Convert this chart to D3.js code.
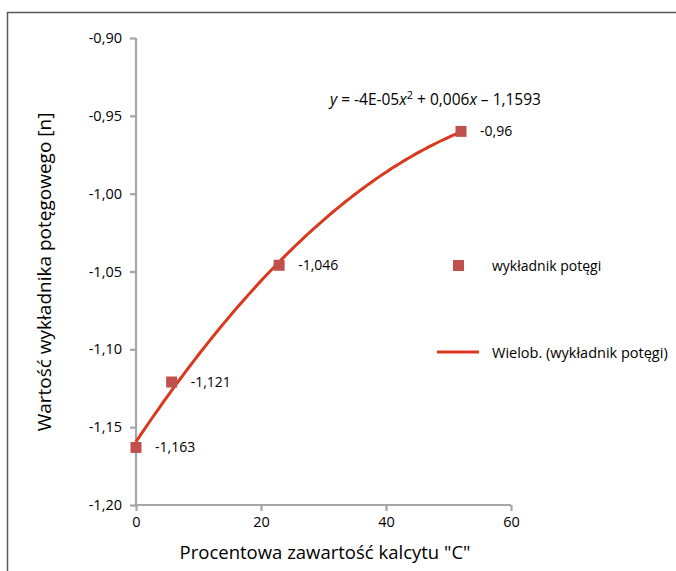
<!DOCTYPE html>
<html>
<head>
<meta charset="utf-8">
<script src="https://cdn.jsdelivr.net/npm/d3@7"></script>
<style>
  html, body { margin: 0; padding: 0; background: #fff; }
  svg { display: block; font-family: "Open Sans", "Noto Sans", sans-serif; }
</style>
</head>
<body>
<svg id="chart" width="676" height="571"></svg>
<script>
// Calcite content (%) and power-law exponent n
const calcite = [0, 5.7, 22.9, 52];
const exponent = [-1.163, -1.121, -1.046, -0.96];
const pointLabels = ["-1,163", "-1,121", "-1,046", "-0,96"];
const xTicks = [0, 20, 40, 60];
const yTicks = [-0.90, -0.95, -1.00, -1.05, -1.10, -1.15, -1.20];

const svg = d3.select("#chart");
const W = 676, H = 571;
const textColor = "#000";

// Chart-area frame
svg.append("rect")
  .attr("x", 7.5).attr("y", 12.5)
  .attr("width", W).attr("height", H)
  .attr("fill", "#fff").attr("stroke", "#5a5a5a").attr("stroke-width", 1.5);

const x = d3.scaleLinear().domain([0, 60]).range([136, 511]);
const y = d3.scaleLinear().domain([-1.20, -0.90]).range([505, 38]);

const fmtY = v => d3.format(".2f")(v).replace(".", ",").replace("−", "-");

// Axes
const axisColor = "#a6a6a6";
const gx = svg.append("g").attr("transform", `translate(0,${y(-1.20)})`)
  .call(d3.axisBottom(x).tickValues(xTicks).tickSize(6).tickPadding(6).tickFormat(d => d));
const gy = svg.append("g").attr("transform", `translate(${x(0)},0)`)
  .call(d3.axisLeft(y).tickValues(yTicks).tickSize(6).tickPadding(8).tickFormat(fmtY));
[gx, gy].forEach(g => {
  g.select(".domain").attr("stroke", axisColor).attr("stroke-width", 2.2);
  g.selectAll(".tick line").attr("stroke", axisColor).attr("stroke-width", 2.2);
  g.selectAll(".tick text").attr("fill", textColor).style("font-size", "14.5px")
    .style("font-family", "'Open Sans', sans-serif");
});
// Plain axis lines without end-caps
gx.select(".domain").attr("d", `M${x(0)},0H${x(60)}`);
gy.select(".domain").attr("d", `M0,${y(-1.20)}V${y(-0.90)}`);

// Second-order polynomial trend fitted by least squares
function polyfit2(xs, ys) {
  const n = xs.length;
  let s = [0, 0, 0, 0, 0], t = [0, 0, 0];
  for (let i = 0; i < n; i++) {
    for (let k = 0; k < 5; k++) s[k] += Math.pow(xs[i], k);
    for (let k = 0; k < 3; k++) t[k] += ys[i] * Math.pow(xs[i], k);
  }
  const A = [[s[0], s[1], s[2], t[0]], [s[1], s[2], s[3], t[1]], [s[2], s[3], s[4], t[2]]];
  for (let i = 0; i < 3; i++) {
    for (let j = i + 1; j < 3; j++) {
      const f = A[j][i] / A[i][i];
      for (let k = i; k < 4; k++) A[j][k] -= f * A[i][k];
    }
  }
  const c = [0, 0, 0];
  for (let i = 2; i >= 0; i--) {
    let v = A[i][3];
    for (let k = i + 1; k < 3; k++) v -= A[i][k] * c[k];
    c[i] = v / A[i][i];
  }
  return c; // c0 + c1 x + c2 x^2
}
const coef = polyfit2(calcite, exponent);
const trendX = d3.range(0, 52.001, 0.5);
const trend = trendX.map(v => [v, coef[0] + coef[1] * v + coef[2] * v * v]);

const lineColor = "#d9391f";
const markColor = "#c0504d";

svg.append("path")
  .datum(trend)
  .attr("fill", "none").attr("stroke", lineColor).attr("stroke-width", 3)
  .attr("d", d3.line().x(d => x(d[0])).y(d => y(d[1])));

// Markers
const ms = 11;
svg.selectAll("rect.pt").data(calcite).join("rect")
  .attr("class", "pt")
  .attr("x", d => x(d) - ms / 2).attr("y", (d, i) => y(exponent[i]) - ms / 2)
  .attr("width", ms).attr("height", ms)
  .attr("fill", markColor);

// Data labels
svg.selectAll("text.lbl").data(calcite).join("text")
  .attr("class", "lbl")
  .attr("x", d => x(d) + 19).attr("y", (d, i) => y(exponent[i]) + 5)
  .style("font-size", "14px").attr("fill", textColor)
  .text((d, i) => pointLabels[i]);

// Trend equation
const eq = svg.append("text").attr("x", 330).attr("y", 105)
  .style("font-size", "15.5px").attr("fill", textColor);
eq.append("tspan").attr("font-style", "italic").text("y");
eq.append("tspan").text(" = -4E-05");
eq.append("tspan").attr("font-style", "italic").text("x");
eq.append("tspan").attr("dy", -6).style("font-size", "11px").text("2");
eq.append("tspan").attr("dy", 6).text(" + 0,006");
eq.append("tspan").attr("font-style", "italic").text("x");
eq.append("tspan").text(" – 1,1593");

// Legend
svg.append("rect").attr("x", 453).attr("y", 260).attr("width", ms).attr("height", ms).attr("fill", markColor);
svg.append("text").attr("x", 492).attr("y", 271).style("font-size", "14px").attr("fill", textColor)
  .text("wykładnik potęgi");
svg.append("line").attr("x1", 437).attr("x2", 479).attr("y1", 352).attr("y2", 352)
  .attr("stroke", lineColor).attr("stroke-width", 3);
svg.append("text").attr("x", 492).attr("y", 358).style("font-size", "14.5px").attr("fill", textColor)
  .text("Wielob. (wykładnik potęgi)");

// Axis titles
svg.append("text").attr("x", 325).attr("y", 559).attr("text-anchor", "middle")
  .style("font-size", "18.5px").attr("fill", textColor)
  .text("Procentowa zawartość kalcytu \"C\"");
svg.append("text").attr("transform", "translate(51,272) rotate(-90)").attr("text-anchor", "middle")
  .style("font-size", "19px").attr("fill", textColor)
  .text("Wartość wykładnika potęgowego [n]");
</script>
</body>
</html>
